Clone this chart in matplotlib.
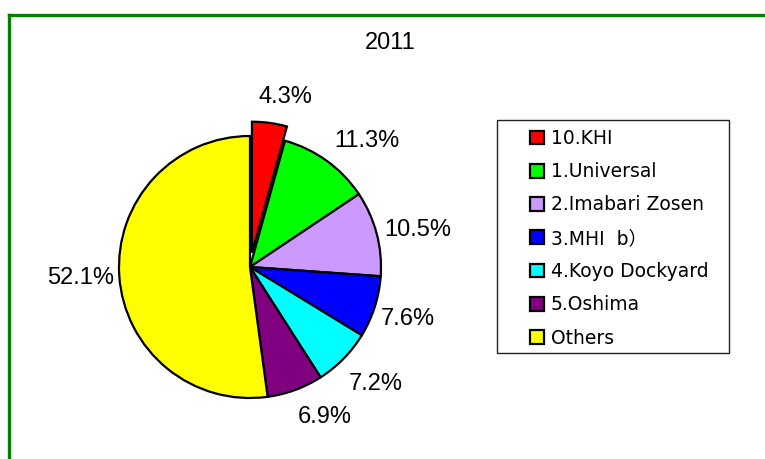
import matplotlib
matplotlib.use('Agg')
import matplotlib.pyplot as plt
import numpy as np
from matplotlib.lines import Line2D
from matplotlib.patches import Rectangle

# ---- data ----
title = '2011'
categories = ['10.KHI', '1.Universal', '2.Imabari Zosen', '3.MHI  b）',
              '4.Koyo Dockyard', '5.Oshima', 'Others']
values = [4.3, 11.3, 10.5, 7.6, 7.2, 6.9, 52.1]
pct_labels = ['4.3%', '11.3%', '10.5%', '7.6%', '7.2%', '6.9%', '52.1%']
colors = ['#FF0000', '#00FF00', '#CC99FF', '#0000FF', '#00FFFF', '#800080', '#FFFF00']
explode = [0.11, 0, 0, 0, 0, 0, 0]

# label placement (angle offset from wedge middle in degrees, radial distance)
label_angle_offset = [-3.9, -7.1, -2.5, -0.6, 1.4, 6.2, 0.0]
label_dist = [1.325, 1.313, 1.313, 1.272, 1.308, 1.28, 1.293]

W, H = 765, 459
fig = plt.figure(figsize=(W / 100, H / 100), dpi=100)
fig.patch.set_facecolor('white')

num_font = ['Liberation Sans', 'DejaVu Sans']
leg_font = ['DejaVu Sans', 'Noto Sans CJK JP']

# pie axes
cx, cy, r = 250, 267, 131
ax = fig.add_axes([(cx - r) / W, (H - cy - r) / H, 2 * r / W, 2 * r / H])
wedges, _ = ax.pie(values, colors=colors, startangle=90, counterclock=False,
                   explode=explode,
                   wedgeprops=dict(edgecolor='black', linewidth=1.6))
ax.set_xlim(-1, 1)
ax.set_ylim(-1, 1)
ax.set_aspect('equal')
ax.axis('off')

for w, lab, off, d in zip(wedges, pct_labels, label_angle_offset, label_dist):
    th = np.deg2rad((w.theta1 + w.theta2) / 2 + off)
    ax.text(d * np.cos(th), d * np.sin(th), lab, ha='center', va='center',
            fontsize=17, family=num_font, clip_on=False)

# title
fig.text(390 / W, 1 - 43 / H, title, ha='center', va='center',
         fontsize=17, family=num_font)

# legend frame
fig.add_artist(Rectangle((497 / W, 1 - 353 / H), 232 / W, 233 / H,
                         transform=fig.transFigure, facecolor='none',
                         edgecolor='#222222', linewidth=1.0))
leg = fig.legend(wedges, categories, loc='upper left',
                 bbox_to_anchor=(530 / W, 1 - 129 / H),
                 frameon=False, borderpad=0, borderaxespad=0,
                 handlelength=0.75, handleheight=0.75, handletextpad=0.35,
                 labelspacing=0.76, prop=dict(family=leg_font, size=13.5))

# green border
gc = '#008000'
x0 = 9 / W
y0 = 1 - 15 / H
fig.add_artist(Line2D([x0, x0], [0, y0], transform=fig.transFigure,
                      color=gc, linewidth=2.4, solid_capstyle='projecting'))
fig.add_artist(Line2D([x0, 1], [y0, y0], transform=fig.transFigure,
                      color=gc, linewidth=2.4, solid_capstyle='projecting'))

fig.savefig('out.png', dpi=100)
